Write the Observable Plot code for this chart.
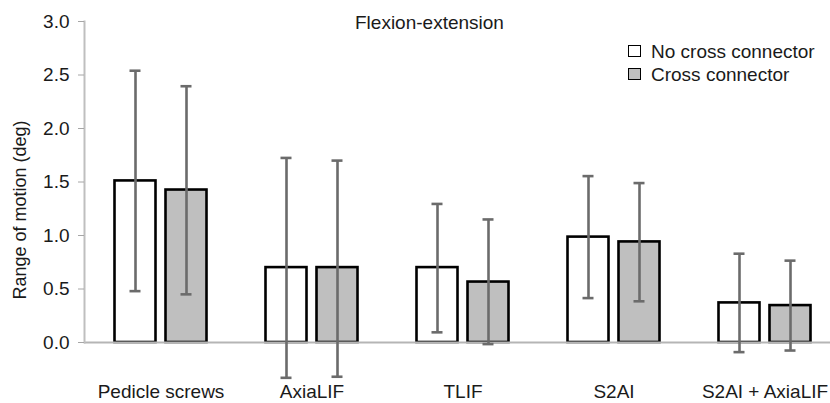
<!DOCTYPE html>
<html><head><meta charset="utf-8">
<script src="https://cdn.jsdelivr.net/npm/d3@7"></script>
<script src="https://cdn.jsdelivr.net/npm/@observablehq/plot@0.6"></script>
<style>
body{margin:0;background:#fff;font-family:"Liberation Sans",Arial,sans-serif;color:#1a1a1a;}
#wrap{position:relative;width:830px;height:403px;overflow:hidden;}
.ov{position:absolute;white-space:nowrap;font-size:19px;line-height:19px;}
.sw{position:absolute;width:11px;height:10px;border:1.6px solid #000;}
</style></head><body><div id="wrap"></div>
<script>
const title = "Flexion-extension";
const yLabel = "Range of motion (deg)";
const categories = ["Pedicle screws", "AxiaLIF", "TLIF", "S2AI", "S2AI + AxiaLIF"];
const seriesNames = ["No cross connector", "Cross connector"];
const seriesFill = ["#ffffff", "#bfbfbf"];
const meansNoCC = [1.51, 0.70, 0.70, 0.985, 0.37];
const upperNoCC = [2.54, 1.725, 1.295, 1.555, 0.83];
const lowerNoCC = [0.48, -0.33, 0.095, 0.415, -0.09];
const meansCC = [1.425, 0.70, 0.565, 0.94, 0.345];
const upperCC = [2.395, 1.70, 1.15, 1.49, 0.765];
const lowerCC = [0.45, -0.32, -0.015, 0.385, -0.075];
const yTicks = [0, 0.5, 1.0, 1.5, 2.0, 2.5, 3.0];

const seriesData = [
  categories.map((c, i) => ({cat: c, mean: meansNoCC[i], lo: lowerNoCC[i], hi: upperNoCC[i]})),
  categories.map((c, i) => ({cat: c, mean: meansCC[i], lo: lowerCC[i], hi: upperCC[i]}))
];
const offsets = [-25.5, 25.5];
const errColor = "#6b6b6b";

const marks = [];
seriesData.forEach((d, k) => {
  marks.push(Plot.barY(d, {x: "cat", y: "mean", fill: seriesFill[k], stroke: "#000", strokeWidth: 2.6,
    insetLeft: 55, insetRight: 55, dx: offsets[k]}));
});
marks.push(Plot.ruleY([0], {stroke: "#b5b5b5", strokeWidth: 2}));
seriesData.forEach((d, k) => {
  marks.push(Plot.ruleX(d, {x: "cat", y1: "lo", y2: "hi", stroke: errColor, strokeWidth: 2.6, dx: offsets[k]}));
  marks.push(Plot.tickY(d, {x: "cat", y: "hi", stroke: errColor, strokeWidth: 2.6, insetLeft: 70, insetRight: 70, dx: offsets[k]}));
  marks.push(Plot.tickY(d, {x: "cat", y: "lo", stroke: errColor, strokeWidth: 2.6, insetLeft: 70, insetRight: 70, dx: offsets[k]}));
});
marks.push(Plot.frame({anchor: "left", stroke: "#bfbfbf", strokeWidth: 2}));
marks.push(Plot.axisY(yTicks, {tickSize: 6, tickPadding: 9, tickFormat: d => d.toFixed(1), stroke: "#a6a6a6", fill: "#1a1a1a", fontSize: 19, label: null}));
marks.push(Plot.axisX({tickSize: 0, tickPadding: 42, fill: "#1a1a1a", fontSize: 19, label: null}));

const chart = Plot.plot({
  width: 830, height: 403,
  marginTop: 21, marginBottom: 61, marginLeft: 84, marginRight: 0,
  x: {domain: categories, range: [84, 840], padding: 0},
  y: {domain: [0, 3]},
  style: {fontFamily: "'Liberation Sans', Arial, sans-serif", fontSize: "19px", background: "#fff", color: "#1a1a1a"},
  marks
});
const wrap = document.getElementById("wrap");
wrap.appendChild(chart);

function addDiv(cls, text, css) {
  const el = document.createElement("div");
  el.className = cls;
  if (text) el.textContent = text;
  Object.assign(el.style, css);
  wrap.appendChild(el);
  return el;
}
addDiv("ov", title, {left: "355px", top: "13px"});
addDiv("ov", yLabel, {left: "20px", top: "210px", fontSize: "18px", transform: "translate(-50%,-50%) rotate(-90deg)"});
seriesNames.forEach((s, k) => {
  addDiv("sw", "", {left: "628px", top: (45 + 23 * k) + "px", background: seriesFill[k]});
  addDiv("ov", s, {left: "651px", top: (42 + 23 * k) + "px"});
});
</script></body></html>
